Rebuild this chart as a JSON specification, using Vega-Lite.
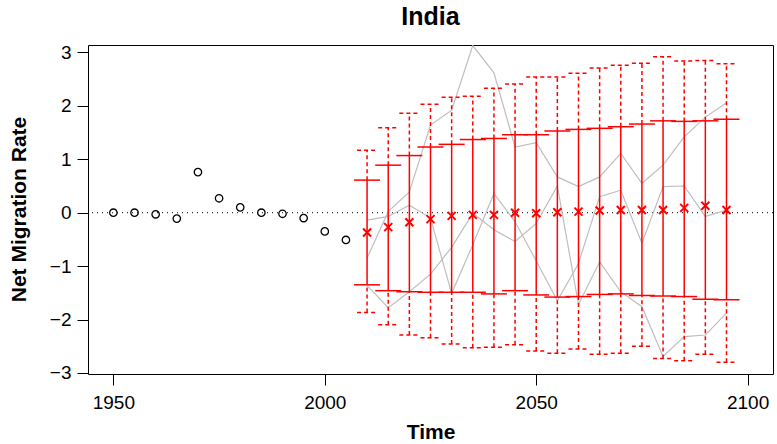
{
  "$schema": "https://vega.github.io/schema/vega-lite/v6.json",
  "width": 685,
  "height": 329,
  "autosize": "none",
  "padding": {"left": 88, "top": 45, "right": 4, "bottom": 70},
  "background": "white",
  "title": {"text": "India", "fontSize": 25, "font": "Liberation Sans", "fontWeight": "bold", "color": "black", "anchor": "middle", "baseline": "alphabetic", "frame": "group", "offset": 2, "dy": 9},
  "config": {
    "view": {"stroke": "black", "strokeWidth": 1},
    "axis": {"grid": false, "domain": false, "tickColor": "black", "tickSize": 11, "tickWidth": 1, "labelFont": "Liberation Sans", "labelFontSize": 19, "labelColor": "black", "titleFont": "Liberation Sans", "titleFontSize": 21, "titleFontWeight": "bold", "titleColor": "black"}
  },
  "datasets": {
    "obs": [
      {"year": 1950, "rate": 0.0}, {"year": 1955, "rate": 0.0}, {"year": 1960, "rate": -0.03}, {"year": 1965, "rate": -0.11},
      {"year": 1970, "rate": 0.76}, {"year": 1975, "rate": 0.27}, {"year": 1980, "rate": 0.10}, {"year": 1985, "rate": 0.0},
      {"year": 1990, "rate": -0.02}, {"year": 1995, "rate": -0.10}, {"year": 2000, "rate": -0.35}, {"year": 2005, "rate": -0.51}
    ],
    "proj": [
      {"year": 2010, "med": -0.37, "lo80": -1.35, "hi80": 0.61, "lo95": -1.87, "hi95": 1.17},
      {"year": 2015, "med": -0.27, "lo80": -1.46, "hi80": 0.89, "lo95": -2.10, "hi95": 1.59},
      {"year": 2020, "med": -0.18, "lo80": -1.48, "hi80": 1.07, "lo95": -2.29, "hi95": 1.86},
      {"year": 2025, "med": -0.12, "lo80": -1.49, "hi80": 1.23, "lo95": -2.34, "hi95": 2.03},
      {"year": 2030, "med": -0.06, "lo80": -1.49, "hi80": 1.28, "lo95": -2.46, "hi95": 2.16},
      {"year": 2035, "med": -0.04, "lo80": -1.49, "hi80": 1.37, "lo95": -2.53, "hi95": 2.18},
      {"year": 2040, "med": -0.04, "lo80": -1.52, "hi80": 1.39, "lo95": -2.52, "hi95": 2.33},
      {"year": 2045, "med": 0.00, "lo80": -1.46, "hi80": 1.46, "lo95": -2.47, "hi95": 2.41},
      {"year": 2050, "med": -0.01, "lo80": -1.54, "hi80": 1.46, "lo95": -2.59, "hi95": 2.54},
      {"year": 2055, "med": 0.01, "lo80": -1.58, "hi80": 1.53, "lo95": -2.63, "hi95": 2.54},
      {"year": 2060, "med": 0.02, "lo80": -1.57, "hi80": 1.56, "lo95": -2.55, "hi95": 2.61},
      {"year": 2065, "med": 0.04, "lo80": -1.53, "hi80": 1.58, "lo95": -2.65, "hi95": 2.71},
      {"year": 2070, "med": 0.05, "lo80": -1.52, "hi80": 1.61, "lo95": -2.63, "hi95": 2.76},
      {"year": 2075, "med": 0.05, "lo80": -1.55, "hi80": 1.66, "lo95": -2.50, "hi95": 2.80},
      {"year": 2080, "med": 0.05, "lo80": -1.56, "hi80": 1.72, "lo95": -2.73, "hi95": 2.92},
      {"year": 2085, "med": 0.09, "lo80": -1.57, "hi80": 1.71, "lo95": -2.77, "hi95": 2.84},
      {"year": 2090, "med": 0.13, "lo80": -1.62, "hi80": 1.72, "lo95": -2.65, "hi95": 2.85},
      {"year": 2095, "med": 0.05, "lo80": -1.63, "hi80": 1.75, "lo95": -2.80, "hi95": 2.79}
    ],
    "traj": [
      {"traj": "A", "year": 2010, "rate": -0.85}, {"traj": "A", "year": 2015, "rate": 0.02}, {"traj": "A", "year": 2020, "rate": 0.39},
      {"traj": "A", "year": 2025, "rate": 1.64}, {"traj": "A", "year": 2030, "rate": 1.92}, {"traj": "A", "year": 2035, "rate": 3.13},
      {"traj": "A", "year": 2040, "rate": 2.62}, {"traj": "A", "year": 2045, "rate": 1.23}, {"traj": "A", "year": 2050, "rate": 1.31},
      {"traj": "A", "year": 2055, "rate": 0.67}, {"traj": "A", "year": 2060, "rate": 0.49}, {"traj": "A", "year": 2065, "rate": 0.67},
      {"traj": "A", "year": 2070, "rate": 1.11}, {"traj": "A", "year": 2075, "rate": 0.55}, {"traj": "A", "year": 2080, "rate": 0.89},
      {"traj": "A", "year": 2085, "rate": 1.42}, {"traj": "A", "year": 2090, "rate": 1.79}, {"traj": "A", "year": 2095, "rate": 2.06},
      {"traj": "B", "year": 2010, "rate": -0.14}, {"traj": "B", "year": 2015, "rate": -0.07}, {"traj": "B", "year": 2020, "rate": 0.14},
      {"traj": "B", "year": 2025, "rate": -0.10}, {"traj": "B", "year": 2030, "rate": -1.51}, {"traj": "B", "year": 2035, "rate": -0.60},
      {"traj": "B", "year": 2040, "rate": 0.36}, {"traj": "B", "year": 2045, "rate": -0.17}, {"traj": "B", "year": 2050, "rate": -0.90},
      {"traj": "B", "year": 2055, "rate": -1.65}, {"traj": "B", "year": 2060, "rate": -0.95}, {"traj": "B", "year": 2065, "rate": 0.30},
      {"traj": "B", "year": 2070, "rate": 0.42}, {"traj": "B", "year": 2075, "rate": -0.57}, {"traj": "B", "year": 2080, "rate": 0.49},
      {"traj": "B", "year": 2085, "rate": 0.50}, {"traj": "B", "year": 2090, "rate": -0.07}, {"traj": "B", "year": 2095, "rate": 0.05},
      {"traj": "C", "year": 2010, "rate": -1.36}, {"traj": "C", "year": 2015, "rate": -1.78}, {"traj": "C", "year": 2020, "rate": -1.48},
      {"traj": "C", "year": 2025, "rate": -1.15}, {"traj": "C", "year": 2030, "rate": -0.65}, {"traj": "C", "year": 2035, "rate": -0.01},
      {"traj": "C", "year": 2040, "rate": -0.32}, {"traj": "C", "year": 2045, "rate": -0.54}, {"traj": "C", "year": 2050, "rate": -0.20},
      {"traj": "C", "year": 2055, "rate": 0.50}, {"traj": "C", "year": 2060, "rate": -1.72}, {"traj": "C", "year": 2065, "rate": -0.92},
      {"traj": "C", "year": 2070, "rate": -1.48}, {"traj": "C", "year": 2075, "rate": -1.76}, {"traj": "C", "year": 2080, "rate": -2.69},
      {"traj": "C", "year": 2085, "rate": -2.32}, {"traj": "C", "year": 2090, "rate": -2.29}, {"traj": "C", "year": 2095, "rate": -1.88}
    ]
  },
  "encoding": {
    "x": {"field": "year", "type": "quantitative", "scale": {"domain": [1944, 2106], "nice": false, "zero": false},
          "axis": {"values": [1950, 2000, 2050, 2100], "format": "d", "title": "Time", "labelPadding": 8, "titleY": 64, "titleBaseline": "alphabetic"}},
    "y": {"type": "quantitative", "scale": {"domain": [-3.02, 3.14], "nice": false, "zero": false},
          "axis": {"values": [-3, -2, -1, 0, 1, 2, 3], "title": "Net Migration Rate", "labelAngle": 0, "labelPadding": 6, "titleAngle": -90, "titleX": -63, "titleY": 164, "titleBaseline": "alphabetic", "titleAlign": "center"}}
  },
  "layer": [
    {
      "data": {"values": [{"zero": 0}]},
      "mark": {"type": "rule", "color": "black", "strokeDash": [1, 4], "strokeWidth": 1},
      "encoding": {"y": {"field": "zero", "type": "quantitative"}, "x": null}
    },
    {
      "data": {"name": "traj"},
      "mark": {"type": "line", "color": "#bebebe", "strokeWidth": 1.2, "clip": true},
      "encoding": {"y": {"field": "rate", "type": "quantitative"}, "detail": {"field": "traj"}}
    },
    {
      "data": {"name": "proj"},
      "mark": {"type": "rule", "color": "red", "strokeWidth": 1.5, "strokeDash": [4, 3]},
      "encoding": {"y": {"field": "hi80", "type": "quantitative"}, "y2": {"field": "hi95"}}
    },
    {
      "data": {"name": "proj"},
      "mark": {"type": "rule", "color": "red", "strokeWidth": 1.5, "strokeDash": [4, 3]},
      "encoding": {"y": {"field": "lo95", "type": "quantitative"}, "y2": {"field": "lo80"}}
    },
    {
      "data": {"name": "proj"},
      "mark": {"type": "rule", "color": "red", "strokeWidth": 1.5},
      "encoding": {"y": {"field": "lo80", "type": "quantitative"}, "y2": {"field": "hi80"}}
    },
    {
      "data": {"name": "proj"},
      "mark": {"type": "rule", "color": "red", "strokeWidth": 1.5, "xOffset": -13, "x2Offset": 13},
      "encoding": {"y": {"field": "hi80", "type": "quantitative"}, "x2": {"field": "year"}}
    },
    {
      "data": {"name": "proj"},
      "mark": {"type": "rule", "color": "red", "strokeWidth": 1.5, "xOffset": -13, "x2Offset": 13},
      "encoding": {"y": {"field": "lo80", "type": "quantitative"}, "x2": {"field": "year"}}
    },
    {
      "data": {"name": "proj"},
      "mark": {"type": "rule", "color": "red", "strokeWidth": 1.5, "strokeDash": [4, 3], "xOffset": -10, "x2Offset": 10},
      "encoding": {"y": {"field": "hi95", "type": "quantitative"}, "x2": {"field": "year"}}
    },
    {
      "data": {"name": "proj"},
      "mark": {"type": "rule", "color": "red", "strokeWidth": 1.5, "strokeDash": [4, 3], "xOffset": -10, "x2Offset": 10},
      "encoding": {"y": {"field": "lo95", "type": "quantitative"}, "x2": {"field": "year"}}
    },
    {
      "data": {"name": "proj"},
      "mark": {"type": "point", "shape": "M-1,-1L1,1M-1,1L1,-1", "filled": false, "color": "red", "strokeWidth": 2, "size": 64, "opacity": 1},
      "encoding": {"y": {"field": "med", "type": "quantitative"}}
    },
    {
      "data": {"name": "obs"},
      "mark": {"type": "point", "shape": "circle", "filled": false, "color": "black", "strokeWidth": 1.3, "size": 55, "opacity": 1},
      "encoding": {"y": {"field": "rate", "type": "quantitative"}}
    }
  ]
}
